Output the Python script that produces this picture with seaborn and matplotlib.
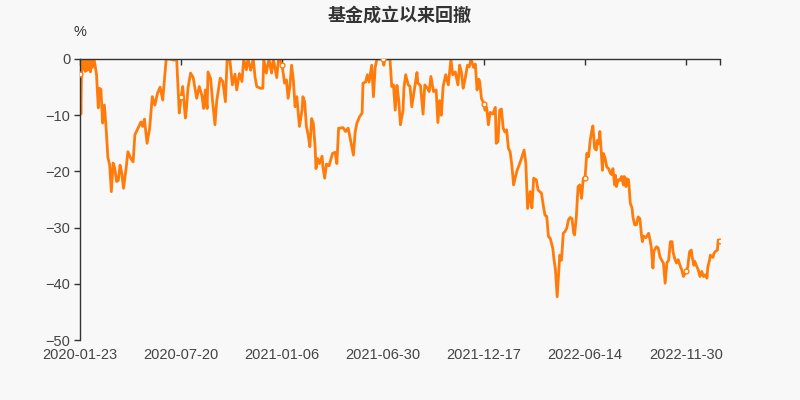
import matplotlib
matplotlib.use("Agg")
import matplotlib.pyplot as plt
import seaborn as sns
import pandas as pd

# ---- data (trading-day index, drawdown %) ----
day_idx = [0, 1, 2, 3, 4, 5, 6, 7, 8, 9, 10, 11, 12, 13, 14, 15, 16, 17, 19, 21,
           22, 24, 26, 28, 30, 32, 34, 36, 38, 40, 42, 44, 46, 48, 50, 53, 55, 58, 61, 63,
           67, 70, 72, 74, 77, 80, 83, 86, 89, 92, 95, 96, 99, 103, 108, 111, 114, 116, 118, 121,
           122, 124, 127, 130, 134, 137, 140, 142, 144, 146, 147, 150, 152, 155, 157, 161, 164, 167, 169, 172,
           175, 178, 180, 183, 186, 188, 191, 193, 196, 199, 201, 203, 207, 210, 211, 214, 217, 220, 222, 226,
           228, 230, 232, 235, 237, 239, 241, 243, 245, 247, 249, 252, 255, 256, 258, 260, 262, 264, 266, 268,
           270, 271, 273, 275, 278, 279, 281, 283, 286, 290, 293, 295, 297, 299, 302, 305, 308, 311, 314, 316,
           318, 321, 324, 325, 328, 330, 332, 335, 337, 339, 341, 344, 348, 349, 350, 356, 358, 360, 362, 364,
           366, 368, 371, 372, 374, 377, 379, 381, 384, 387, 388, 391, 394, 396, 399, 401, 403, 406, 409, 411,
           413, 415, 417, 420, 423, 426, 428, 431, 434, 436, 438, 440, 442, 445, 447, 449, 452, 454, 456, 458,
           459, 461, 464, 465, 467, 469, 471, 474, 477, 478, 480, 482, 484, 486, 488, 490, 492, 494, 496, 498,
           500, 502, 504, 507, 510, 512, 514, 517, 519, 521, 524, 526, 530, 532, 534, 536, 538, 540, 543, 544,
           546, 548, 550, 551, 553, 555, 557, 559, 561, 563, 565, 567, 568, 570, 572, 574, 576, 578, 580, 582,
           584, 586, 588, 589, 591, 593, 594, 596, 597, 598, 600, 601, 603, 605, 607, 609, 611, 612, 614, 615,
           616, 618, 620, 622, 624, 625, 627, 628, 630, 632, 634, 635, 637, 639, 641, 643, 645, 646, 647, 650,
           653, 655, 656, 658, 659, 662, 664, 666, 668, 670, 672, 674, 676, 678, 680, 681, 683, 685, 687, 689,
           691, 693, 696, 698, 700, 702, 703, 705, 706, 708, 710, 712, 714, 716, 718, 720, 721, 723, 724, 727,
           728, 730, 732, 733, 735]
drawdown = [-2.7, -9.8, 0.0, -0.3, -1.8, 0.0, -2.2, -0.4, -2.0, 0.0, -1.9, -0.2, -2.3, -0.5, -1.5, 0.0, 0.0, -0.8, -2.8, -8.7,
            -5.2, -5.4, -11.4, -8.2, -12.3, -17.5, -18.8, -23.6, -18.5, -19.5, -21.8, -21.6, -18.9, -20.3, -23.0, -19.4, -16.5, -17.6, -18.3, -13.5,
            -12.2, -11.2, -12.0, -10.7, -15.0, -12.3, -6.7, -8.2, -6.1, -5.0, -7.3, -5.5, 0.0, 0.0, -0.2, 0.0, -9.6, -6.8, -4.9, -10.5,
            -9.3, -5.2, -2.5, -3.3, -7.0, -4.9, -6.5, -8.8, -5.5, -8.8, -2.3, -3.5, -7.1, -11.7, -7.5, -3.4, -4.0, -7.6, 0.0, 0.0,
            -4.6, -2.7, -5.5, -2.6, -4.0, 0.0, -1.9, 0.0, -2.0, 0.0, -3.2, -4.9, -5.2, -5.2, 0.0, -2.5, 0.0, -2.5, 0.0, -3.3,
            0.0, -0.3, -1.1, -4.3, -3.7, -7.0, -4.9, -1.1, -3.7, -8.5, -6.7, -12.0, -9.1, -6.7, -7.6, -12.0, -13.5, -15.6, -10.6, -11.5,
            -15.6, -19.5, -17.7, -18.6, -17.3, -19.2, -21.2, -18.7, -19.0, -16.8, -16.6, -18.6, -12.3, -12.3, -12.2, -12.9, -12.3, -14.7, -17.1, -13.0,
            -11.4, -10.3, -9.6, -4.3, -4.1, -2.8, -4.1, -1.1, -6.7, -1.5, 0.0, 0.0, 0.0, -1.1, 0.0, 0.0, -4.9, -4.6, -9.1, -4.7,
            -7.3, -11.7, -9.1, -5.2, -2.8, -4.6, -4.9, -8.5, -5.5, -2.4, -4.3, -4.7, -9.8, -4.6, -5.2, -5.8, -3.1, -5.8, -5.5, -11.3,
            -7.4, -10.0, -4.9, -2.8, -4.6, 0.0, -2.8, -2.3, -4.6, -1.1, -2.3, -5.2, -3.8, -1.1, -1.4, 0.0, -1.5, -0.9, -5.5, -3.6,
            -4.0, -7.0, -8.0, -9.1, -8.6, -11.7, -9.5, -9.8, -8.6, -15.0, -14.7, -9.1, -8.9, -12.3, -13.0, -12.6, -15.9, -16.5, -19.0, -22.4,
            -21.0, -19.8, -19.0, -17.7, -16.2, -18.5, -26.6, -23.6, -26.5, -21.2, -21.5, -23.3, -23.9, -26.0, -27.8, -28.0, -31.6, -31.9, -33.7, -35.2,
            -37.5, -42.3, -37.5, -34.9, -35.8, -31.0, -30.7, -30.1, -28.6, -28.2, -28.4, -31.0, -31.3, -28.1, -22.7, -22.4, -24.8, -21.2, -21.2, -16.8,
            -17.4, -14.4, -12.6, -11.9, -15.9, -16.2, -14.5, -15.1, -12.9, -15.0, -19.8, -16.8, -17.6, -19.2, -19.5, -20.3, -20.6, -19.5, -22.4, -20.7,
            -22.7, -21.5, -21.6, -20.9, -22.4, -20.9, -22.7, -21.3, -21.5, -25.7, -26.5, -28.1, -29.5, -29.5, -28.1, -28.4, -31.6, -32.5, -31.5, -31.8,
            -31.0, -32.5, -33.4, -37.2, -34.2, -33.4, -33.6, -35.2, -35.8, -36.3, -39.9, -36.3, -35.8, -32.5, -32.5, -34.3, -35.5, -36.3, -35.7, -36.7,
            -37.5, -38.7, -37.8, -37.0, -34.3, -34.0, -35.2, -36.7, -36.0, -36.8, -37.5, -38.7, -37.8, -38.7, -38.4, -39.0, -37.0, -35.8, -34.9, -35.3,
            -34.6, -34.2, -34.0, -32.2, -32.3]

tick_idx = [0, 116, 232, 348, 464, 580, 696, 735]
tick_labels = ["2020-01-23", "2020-07-20", "2021-01-06", "2021-06-30",
               "2021-12-17", "2022-06-14", "2022-11-30", ""]
y_ticks = [0, -10, -20, -30, -40, -50]
title = "基金成立以来回撤"

df = pd.DataFrame({"idx": day_idx, "dd": drawdown})
mk = df[df["idx"].isin(tick_idx)]

bg = "#f8f8f8"
line_color = "#ff7b0a"
sns.set_theme(style="white")
plt.rcParams["font.family"] = ["Liberation Sans", "Noto Sans CJK SC", "DejaVu Sans"]

fig = plt.figure(figsize=(8, 4), dpi=100, facecolor=bg)
ax = fig.add_axes([0.1, 0.15, 0.8, 0.7025], facecolor=bg)

sns.lineplot(data=df, x="idx", y="dd", ax=ax, color=line_color, linewidth=2.0)
sns.scatterplot(data=mk, x="idx", y="dd", ax=ax, s=12, color="white",
                edgecolor=line_color, linewidth=1.0, zorder=5)

ax.set_xlim(0, 735)
ax.set_ylim(-50, 0)
ax.set_xlabel("")
ax.set_ylabel("")

for s in ["right", "bottom"]:
    ax.spines[s].set_visible(False)
for s in ["left", "top"]:
    ax.spines[s].set_color("#333333")
    ax.spines[s].set_linewidth(1.0)

ax.set_xticks(tick_idx)
ax.set_xticklabels(tick_labels)
ax.set_yticks(y_ticks)
ax.set_yticklabels([f"{v}".replace("-", "\u2212") for v in y_ticks])

ax.tick_params(axis="x", bottom=False, top=True, labelbottom=True, labeltop=False,
               direction="in", length=4, width=1, color="#333333",
               labelsize=10.5, labelcolor="#444444", pad=5.5)
ax.tick_params(axis="y", left=True, direction="out", length=4, width=1,
               color="#333333", labelsize=10.5, labelcolor="#444444", pad=3)

ax.text(0, 1.07, "%", transform=ax.transAxes, ha="center", va="bottom",
        fontsize=10.5, color="#333333")
fig.text(0.5, 0.963, title, ha="center", va="center", fontsize=13,
         fontweight="bold", color="#333333",
         family=["Noto Sans CJK SC", "DejaVu Sans"])

fig.savefig("out.png", dpi=100, facecolor=bg)
